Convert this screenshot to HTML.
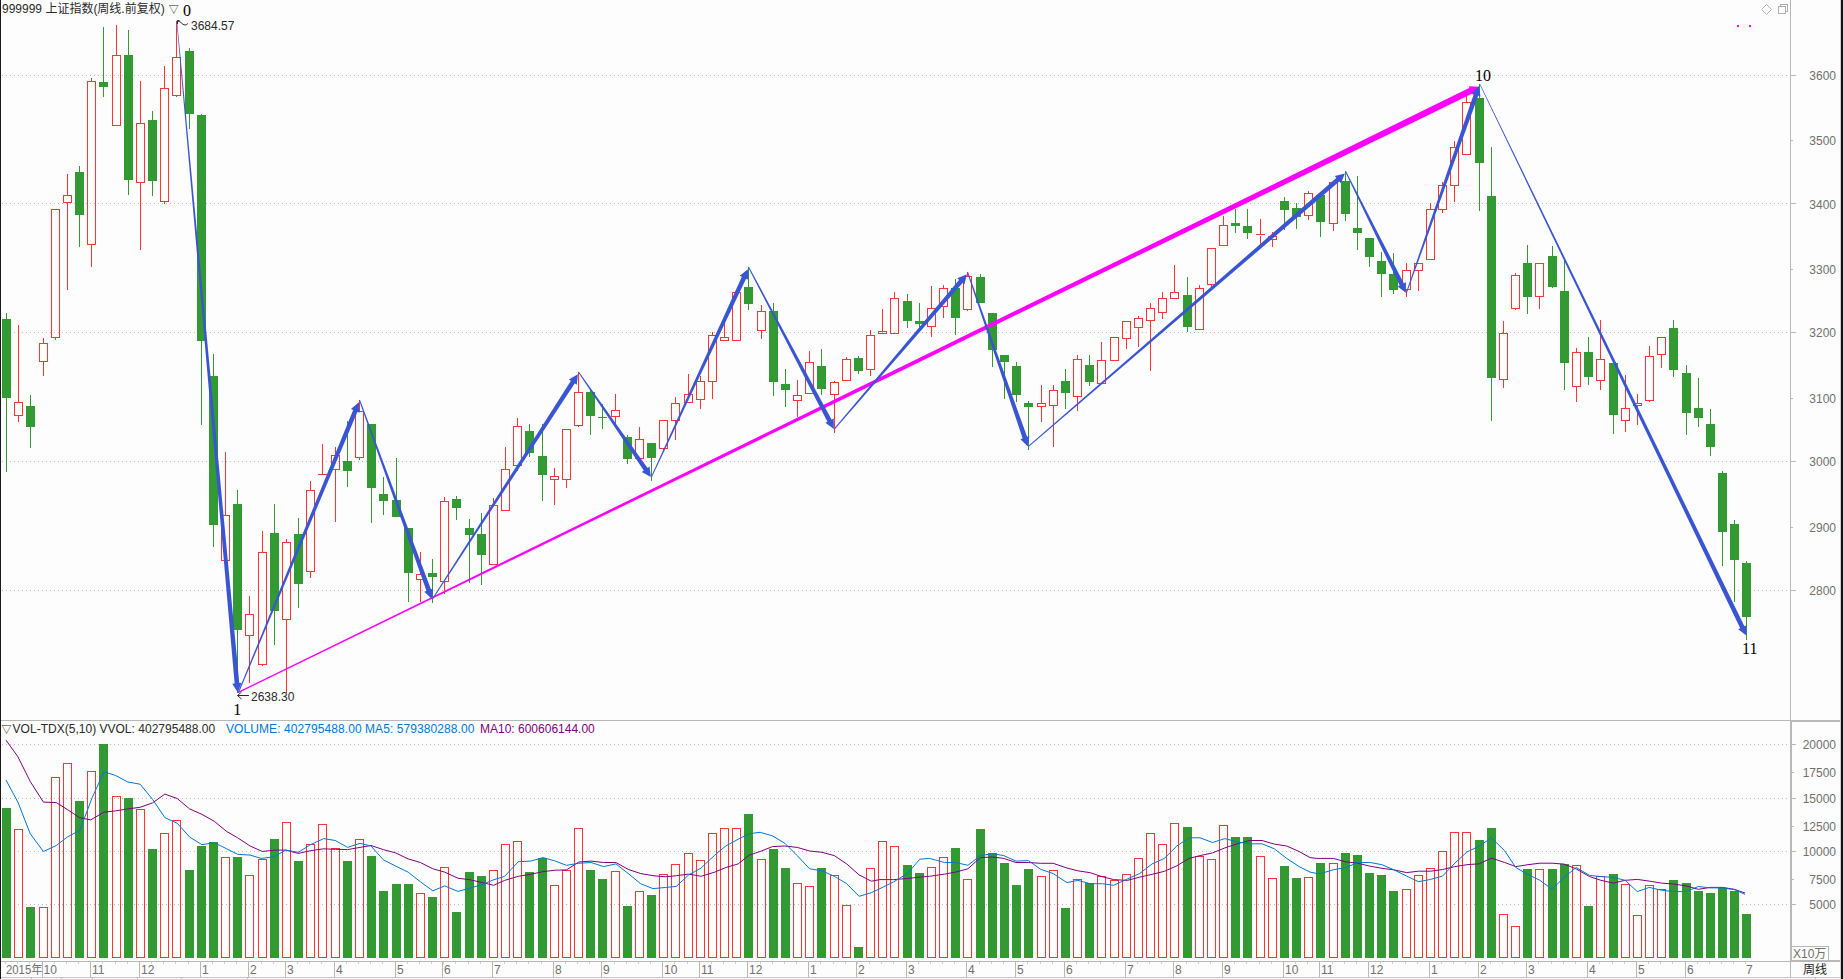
<!DOCTYPE html>
<html><head><meta charset="utf-8"><title>999999 上证指数</title>
<style>
html,body{margin:0;padding:0;background:#fdfdfd;}
body{width:1843px;height:979px;overflow:hidden;position:relative;font-family:"Liberation Sans","Noto Sans CJK SC",sans-serif;}
svg{position:absolute;left:0;top:0;display:block;}
text{font-family:"Liberation Sans","Noto Sans CJK SC",sans-serif;font-size:12px;}
.ser{font-family:"Liberation Serif","Noto Serif CJK SC",serif;font-size:16px;fill:#000;}
.ax{fill:#707070;}
.hd{fill:#2a2a2a;}
</style></head><body>
<svg width="1843" height="979" viewBox="0 0 1843 979">
<rect x="0" y="0" width="1843" height="979" fill="#fdfdfd"/>

<g stroke="#bcbcbc" stroke-width="1" stroke-dasharray="1 3" shape-rendering="crispEdges">
<line x1="2" y1="75.5" x2="1788" y2="75.5"/>
<line x1="2" y1="203.5" x2="1788" y2="203.5"/>
<line x1="2" y1="332.5" x2="1788" y2="332.5"/>
<line x1="2" y1="461.5" x2="1788" y2="461.5"/>
<line x1="2" y1="590.5" x2="1788" y2="590.5"/>
<line x1="2" y1="744.5" x2="1788" y2="744.5"/>
<line x1="2" y1="798.5" x2="1788" y2="798.5"/>
<line x1="2" y1="851.5" x2="1788" y2="851.5"/>
<line x1="2" y1="904.5" x2="1788" y2="904.5"/>
</g>
<g shape-rendering="crispEdges">
<rect x="0" y="0" width="1" height="979" fill="#1a1a1a"/>
<rect x="1841" y="0" width="2" height="979" fill="#111"/>
<rect x="1840" y="0" width="1" height="979" fill="#cfcfcf"/>
<rect x="1" y="720" width="1789" height="1" fill="#b8b8b8"/>
<rect x="1790" y="720" width="50" height="2" fill="#b8b8b8"/>
<rect x="1" y="961" width="1789" height="1" fill="#b8b8b8"/>
<rect x="1790" y="960" width="50" height="2" fill="#b8b8b8"/>
<rect x="1" y="977" width="1839" height="1" fill="#c4c4c4"/>
<rect x="1790" y="0" width="1" height="977" fill="#b8b8b8"/>
<rect x="1791" y="720" width="1" height="241" fill="#b8b8b8"/>
<rect x="1815" y="978" width="1" height="1" fill="#b8b8b8"/>
<rect x="1791" y="75" width="5" height="1" fill="#b8b8b8"/>
<rect x="1791" y="140" width="2" height="1" fill="#b8b8b8"/>
<rect x="1791" y="203" width="5" height="1" fill="#b8b8b8"/>
<rect x="1791" y="269" width="2" height="1" fill="#b8b8b8"/>
<rect x="1791" y="332" width="5" height="1" fill="#b8b8b8"/>
<rect x="1791" y="398" width="2" height="1" fill="#b8b8b8"/>
<rect x="1791" y="461" width="5" height="1" fill="#b8b8b8"/>
<rect x="1791" y="527" width="2" height="1" fill="#b8b8b8"/>
<rect x="1791" y="590" width="5" height="1" fill="#b8b8b8"/>
<rect x="1792" y="744" width="4" height="1" fill="#b8b8b8"/>
<rect x="1792" y="772" width="2" height="1" fill="#b8b8b8"/>
<rect x="1792" y="798" width="4" height="1" fill="#b8b8b8"/>
<rect x="1792" y="826" width="2" height="1" fill="#b8b8b8"/>
<rect x="1792" y="851" width="4" height="1" fill="#b8b8b8"/>
<rect x="1792" y="879" width="2" height="1" fill="#b8b8b8"/>
<rect x="1792" y="904" width="4" height="1" fill="#b8b8b8"/>
</g>
<g shape-rendering="crispEdges">
<rect x="6" y="313" width="1" height="159" fill="#339933"/>
<rect x="2" y="319" width="9" height="79" fill="#339933"/>
<rect x="18" y="325" width="1" height="77" fill="#ff3333"/>
<rect x="18" y="416" width="1" height="6" fill="#ff3333"/>
<rect x="14.5" y="402.5" width="8" height="13" fill="none" stroke="#ff3333" stroke-width="1"/>
<rect x="30" y="395" width="1" height="53" fill="#339933"/>
<rect x="26" y="406" width="9" height="21" fill="#339933"/>
<rect x="43" y="338" width="1" height="5" fill="#ff3333"/>
<rect x="43" y="362" width="1" height="14" fill="#ff3333"/>
<rect x="39.5" y="343.5" width="8" height="18" fill="none" stroke="#ff3333" stroke-width="1"/>
<rect x="55" y="338" width="1" height="2" fill="#ff3333"/>
<rect x="51.5" y="209.5" width="8" height="128" fill="none" stroke="#ff3333" stroke-width="1"/>
<rect x="67" y="174" width="1" height="21" fill="#ff3333"/>
<rect x="67" y="203" width="1" height="87" fill="#ff3333"/>
<rect x="63.5" y="195.5" width="8" height="7" fill="none" stroke="#ff3333" stroke-width="1"/>
<rect x="79" y="166" width="1" height="81" fill="#339933"/>
<rect x="75" y="172" width="9" height="43" fill="#339933"/>
<rect x="91" y="78" width="1" height="3" fill="#ff3333"/>
<rect x="91" y="245" width="1" height="22" fill="#ff3333"/>
<rect x="87.5" y="81.5" width="8" height="163" fill="none" stroke="#ff3333" stroke-width="1"/>
<rect x="103" y="27" width="1" height="70" fill="#339933"/>
<rect x="99" y="82" width="9" height="5" fill="#339933"/>
<rect x="116" y="25" width="1" height="30" fill="#ff3333"/>
<rect x="112.5" y="55.5" width="8" height="70" fill="none" stroke="#ff3333" stroke-width="1"/>
<rect x="128" y="30" width="1" height="165" fill="#339933"/>
<rect x="124" y="55" width="9" height="125" fill="#339933"/>
<rect x="140" y="81" width="1" height="42" fill="#ff3333"/>
<rect x="140" y="183" width="1" height="67" fill="#ff3333"/>
<rect x="136.5" y="123.5" width="8" height="59" fill="none" stroke="#ff3333" stroke-width="1"/>
<rect x="152" y="111" width="1" height="85" fill="#339933"/>
<rect x="148" y="120" width="9" height="61" fill="#339933"/>
<rect x="164" y="66" width="1" height="22" fill="#ff3333"/>
<rect x="164" y="202" width="1" height="2" fill="#ff3333"/>
<rect x="160.5" y="88.5" width="8" height="113" fill="none" stroke="#ff3333" stroke-width="1"/>
<rect x="176" y="21" width="1" height="36" fill="#ff3333"/>
<rect x="176" y="96" width="1" height="1" fill="#ff3333"/>
<rect x="172.5" y="57.5" width="8" height="38" fill="none" stroke="#ff3333" stroke-width="1"/>
<rect x="189" y="48" width="1" height="81" fill="#339933"/>
<rect x="185" y="51" width="9" height="63" fill="#339933"/>
<rect x="201" y="114" width="1" height="311" fill="#339933"/>
<rect x="197" y="115" width="9" height="226" fill="#339933"/>
<rect x="213" y="354" width="1" height="193" fill="#339933"/>
<rect x="209" y="376" width="9" height="149" fill="#339933"/>
<rect x="225" y="452" width="1" height="63" fill="#ff3333"/>
<rect x="221.5" y="515.5" width="8" height="45" fill="none" stroke="#ff3333" stroke-width="1"/>
<rect x="237" y="490" width="1" height="203" fill="#339933"/>
<rect x="233" y="504" width="9" height="126" fill="#339933"/>
<rect x="249" y="596" width="1" height="18" fill="#ff3333"/>
<rect x="249" y="636" width="1" height="47" fill="#ff3333"/>
<rect x="245.5" y="614.5" width="8" height="21" fill="none" stroke="#ff3333" stroke-width="1"/>
<rect x="262" y="531" width="1" height="21" fill="#ff3333"/>
<rect x="262" y="665" width="1" height="1" fill="#ff3333"/>
<rect x="258.5" y="552.5" width="8" height="112" fill="none" stroke="#ff3333" stroke-width="1"/>
<rect x="274" y="504" width="1" height="141" fill="#339933"/>
<rect x="270" y="533" width="9" height="78" fill="#339933"/>
<rect x="286" y="539" width="1" height="3" fill="#ff3333"/>
<rect x="286" y="620" width="1" height="73" fill="#ff3333"/>
<rect x="282.5" y="542.5" width="8" height="77" fill="none" stroke="#ff3333" stroke-width="1"/>
<rect x="298" y="518" width="1" height="90" fill="#339933"/>
<rect x="294" y="534" width="9" height="50" fill="#339933"/>
<rect x="310" y="481" width="1" height="9" fill="#ff3333"/>
<rect x="310" y="572" width="1" height="6" fill="#ff3333"/>
<rect x="306.5" y="490.5" width="8" height="81" fill="none" stroke="#ff3333" stroke-width="1"/>
<rect x="322" y="444" width="1" height="30" fill="#ff3333"/>
<rect x="318" y="474" width="9" height="1" fill="#ff3333"/>
<rect x="335" y="447" width="1" height="8" fill="#ff3333"/>
<rect x="335" y="470" width="1" height="52" fill="#ff3333"/>
<rect x="331.5" y="455.5" width="8" height="14" fill="none" stroke="#ff3333" stroke-width="1"/>
<rect x="347" y="421" width="1" height="66" fill="#339933"/>
<rect x="343" y="461" width="9" height="10" fill="#339933"/>
<rect x="359" y="400" width="1" height="11" fill="#ff3333"/>
<rect x="359" y="458" width="1" height="2" fill="#ff3333"/>
<rect x="355.5" y="411.5" width="8" height="46" fill="none" stroke="#ff3333" stroke-width="1"/>
<rect x="371" y="424" width="1" height="99" fill="#339933"/>
<rect x="367" y="424" width="9" height="64" fill="#339933"/>
<rect x="383" y="477" width="1" height="38" fill="#339933"/>
<rect x="379" y="494" width="9" height="7" fill="#339933"/>
<rect x="396" y="458" width="1" height="59" fill="#339933"/>
<rect x="392" y="500" width="9" height="17" fill="#339933"/>
<rect x="408" y="528" width="1" height="74" fill="#339933"/>
<rect x="404" y="528" width="9" height="45" fill="#339933"/>
<rect x="420" y="552" width="1" height="22" fill="#ff3333"/>
<rect x="420" y="580" width="1" height="22" fill="#ff3333"/>
<rect x="416.5" y="574.5" width="8" height="5" fill="none" stroke="#ff3333" stroke-width="1"/>
<rect x="432" y="559" width="1" height="44" fill="#339933"/>
<rect x="428" y="573" width="9" height="4" fill="#339933"/>
<rect x="444" y="497" width="1" height="4" fill="#ff3333"/>
<rect x="444" y="582" width="1" height="12" fill="#ff3333"/>
<rect x="440.5" y="501.5" width="8" height="80" fill="none" stroke="#ff3333" stroke-width="1"/>
<rect x="456" y="496" width="1" height="24" fill="#339933"/>
<rect x="452" y="499" width="9" height="9" fill="#339933"/>
<rect x="469" y="519" width="1" height="64" fill="#339933"/>
<rect x="465" y="528" width="9" height="7" fill="#339933"/>
<rect x="481" y="513" width="1" height="72" fill="#339933"/>
<rect x="477" y="534" width="9" height="21" fill="#339933"/>
<rect x="493" y="498" width="1" height="7" fill="#ff3333"/>
<rect x="489.5" y="505.5" width="8" height="59" fill="none" stroke="#ff3333" stroke-width="1"/>
<rect x="505" y="447" width="1" height="22" fill="#ff3333"/>
<rect x="501.5" y="469.5" width="8" height="41" fill="none" stroke="#ff3333" stroke-width="1"/>
<rect x="517" y="418" width="1" height="8" fill="#ff3333"/>
<rect x="517" y="466" width="1" height="5" fill="#ff3333"/>
<rect x="513.5" y="426.5" width="8" height="39" fill="none" stroke="#ff3333" stroke-width="1"/>
<rect x="529" y="424" width="1" height="33" fill="#339933"/>
<rect x="525" y="431" width="9" height="22" fill="#339933"/>
<rect x="542" y="424" width="1" height="77" fill="#339933"/>
<rect x="538" y="456" width="9" height="19" fill="#339933"/>
<rect x="554" y="468" width="1" height="8" fill="#ff3333"/>
<rect x="554" y="480" width="1" height="25" fill="#ff3333"/>
<rect x="550.5" y="476.5" width="8" height="3" fill="none" stroke="#ff3333" stroke-width="1"/>
<rect x="566" y="480" width="1" height="8" fill="#ff3333"/>
<rect x="562.5" y="429.5" width="8" height="50" fill="none" stroke="#ff3333" stroke-width="1"/>
<rect x="578" y="372" width="1" height="20" fill="#ff3333"/>
<rect x="578" y="426" width="1" height="1" fill="#ff3333"/>
<rect x="574.5" y="392.5" width="8" height="33" fill="none" stroke="#ff3333" stroke-width="1"/>
<rect x="590" y="390" width="1" height="45" fill="#339933"/>
<rect x="586" y="392" width="9" height="24" fill="#339933"/>
<rect x="602" y="404" width="1" height="25" fill="#339933"/>
<rect x="598" y="417" width="9" height="1" fill="#339933"/>
<rect x="615" y="394" width="1" height="16" fill="#ff3333"/>
<rect x="615" y="417" width="1" height="8" fill="#ff3333"/>
<rect x="611.5" y="410.5" width="8" height="6" fill="none" stroke="#ff3333" stroke-width="1"/>
<rect x="627" y="435" width="1" height="29" fill="#339933"/>
<rect x="623" y="437" width="9" height="22" fill="#339933"/>
<rect x="639" y="427" width="1" height="12" fill="#ff3333"/>
<rect x="635.5" y="439.5" width="8" height="19" fill="none" stroke="#ff3333" stroke-width="1"/>
<rect x="651" y="443" width="1" height="38" fill="#339933"/>
<rect x="647" y="443" width="9" height="15" fill="#339933"/>
<rect x="663" y="449" width="1" height="3" fill="#ff3333"/>
<rect x="659.5" y="420.5" width="8" height="28" fill="none" stroke="#ff3333" stroke-width="1"/>
<rect x="675" y="397" width="1" height="6" fill="#ff3333"/>
<rect x="675" y="421" width="1" height="19" fill="#ff3333"/>
<rect x="671.5" y="403.5" width="8" height="17" fill="none" stroke="#ff3333" stroke-width="1"/>
<rect x="688" y="374" width="1" height="20" fill="#ff3333"/>
<rect x="684.5" y="394.5" width="8" height="8" fill="none" stroke="#ff3333" stroke-width="1"/>
<rect x="700" y="376" width="1" height="5" fill="#ff3333"/>
<rect x="700" y="400" width="1" height="9" fill="#ff3333"/>
<rect x="696.5" y="381.5" width="8" height="18" fill="none" stroke="#ff3333" stroke-width="1"/>
<rect x="712" y="332" width="1" height="3" fill="#ff3333"/>
<rect x="712" y="382" width="1" height="17" fill="#ff3333"/>
<rect x="708.5" y="335.5" width="8" height="46" fill="none" stroke="#ff3333" stroke-width="1"/>
<rect x="724" y="323" width="1" height="14" fill="#ff3333"/>
<rect x="720.5" y="337.5" width="8" height="3" fill="none" stroke="#ff3333" stroke-width="1"/>
<rect x="732.5" y="292.5" width="8" height="48" fill="none" stroke="#ff3333" stroke-width="1"/>
<rect x="748" y="267" width="1" height="43" fill="#339933"/>
<rect x="744" y="287" width="9" height="17" fill="#339933"/>
<rect x="761" y="305" width="1" height="6" fill="#ff3333"/>
<rect x="761" y="331" width="1" height="8" fill="#ff3333"/>
<rect x="757.5" y="311.5" width="8" height="19" fill="none" stroke="#ff3333" stroke-width="1"/>
<rect x="773" y="303" width="1" height="93" fill="#339933"/>
<rect x="769" y="311" width="9" height="71" fill="#339933"/>
<rect x="785" y="369" width="1" height="38" fill="#339933"/>
<rect x="781" y="384" width="9" height="6" fill="#339933"/>
<rect x="797" y="380" width="1" height="15" fill="#ff3333"/>
<rect x="797" y="401" width="1" height="16" fill="#ff3333"/>
<rect x="793.5" y="395.5" width="8" height="5" fill="none" stroke="#ff3333" stroke-width="1"/>
<rect x="809" y="351" width="1" height="11" fill="#ff3333"/>
<rect x="805.5" y="362.5" width="8" height="31" fill="none" stroke="#ff3333" stroke-width="1"/>
<rect x="821" y="349" width="1" height="46" fill="#339933"/>
<rect x="817" y="366" width="9" height="23" fill="#339933"/>
<rect x="834" y="381" width="1" height="1" fill="#ff3333"/>
<rect x="834" y="395" width="1" height="38" fill="#ff3333"/>
<rect x="830.5" y="382.5" width="8" height="12" fill="none" stroke="#ff3333" stroke-width="1"/>
<rect x="846" y="357" width="1" height="2" fill="#ff3333"/>
<rect x="842.5" y="359.5" width="8" height="21" fill="none" stroke="#ff3333" stroke-width="1"/>
<rect x="858" y="356" width="1" height="18" fill="#339933"/>
<rect x="854" y="358" width="9" height="13" fill="#339933"/>
<rect x="870" y="330" width="1" height="5" fill="#ff3333"/>
<rect x="870" y="370" width="1" height="6" fill="#ff3333"/>
<rect x="866.5" y="335.5" width="8" height="34" fill="none" stroke="#ff3333" stroke-width="1"/>
<rect x="882" y="309" width="1" height="22" fill="#ff3333"/>
<rect x="878.5" y="331.5" width="8" height="2" fill="none" stroke="#ff3333" stroke-width="1"/>
<rect x="894" y="292" width="1" height="6" fill="#ff3333"/>
<rect x="890.5" y="298.5" width="8" height="35" fill="none" stroke="#ff3333" stroke-width="1"/>
<rect x="907" y="294" width="1" height="34" fill="#339933"/>
<rect x="903" y="301" width="9" height="20" fill="#339933"/>
<rect x="919" y="303" width="1" height="24" fill="#339933"/>
<rect x="915" y="321" width="9" height="3" fill="#339933"/>
<rect x="931" y="286" width="1" height="22" fill="#ff3333"/>
<rect x="931" y="327" width="1" height="10" fill="#ff3333"/>
<rect x="927.5" y="308.5" width="8" height="18" fill="none" stroke="#ff3333" stroke-width="1"/>
<rect x="943" y="285" width="1" height="3" fill="#ff3333"/>
<rect x="943" y="307" width="1" height="11" fill="#ff3333"/>
<rect x="939.5" y="288.5" width="8" height="18" fill="none" stroke="#ff3333" stroke-width="1"/>
<rect x="955" y="279" width="1" height="56" fill="#339933"/>
<rect x="951" y="288" width="9" height="30" fill="#339933"/>
<rect x="967" y="272" width="1" height="4" fill="#ff3333"/>
<rect x="967" y="310" width="1" height="1" fill="#ff3333"/>
<rect x="963.5" y="276.5" width="8" height="33" fill="none" stroke="#ff3333" stroke-width="1"/>
<rect x="980" y="274" width="1" height="29" fill="#339933"/>
<rect x="976" y="277" width="9" height="26" fill="#339933"/>
<rect x="992" y="313" width="1" height="54" fill="#339933"/>
<rect x="988" y="313" width="9" height="37" fill="#339933"/>
<rect x="1004" y="355" width="1" height="44" fill="#339933"/>
<rect x="1000" y="355" width="9" height="7" fill="#339933"/>
<rect x="1016" y="362" width="1" height="40" fill="#339933"/>
<rect x="1012" y="366" width="9" height="29" fill="#339933"/>
<rect x="1028" y="401" width="1" height="49" fill="#339933"/>
<rect x="1024" y="403" width="9" height="4" fill="#339933"/>
<rect x="1041" y="385" width="1" height="18" fill="#ff3333"/>
<rect x="1041" y="407" width="1" height="15" fill="#ff3333"/>
<rect x="1037.5" y="403.5" width="8" height="3" fill="none" stroke="#ff3333" stroke-width="1"/>
<rect x="1053" y="385" width="1" height="5" fill="#ff3333"/>
<rect x="1053" y="406" width="1" height="41" fill="#ff3333"/>
<rect x="1049.5" y="390.5" width="8" height="15" fill="none" stroke="#ff3333" stroke-width="1"/>
<rect x="1065" y="369" width="1" height="40" fill="#339933"/>
<rect x="1061" y="381" width="9" height="12" fill="#339933"/>
<rect x="1077" y="355" width="1" height="4" fill="#ff3333"/>
<rect x="1077" y="397" width="1" height="14" fill="#ff3333"/>
<rect x="1073.5" y="359.5" width="8" height="37" fill="none" stroke="#ff3333" stroke-width="1"/>
<rect x="1089" y="355" width="1" height="31" fill="#339933"/>
<rect x="1085" y="365" width="9" height="17" fill="#339933"/>
<rect x="1101" y="342" width="1" height="18" fill="#ff3333"/>
<rect x="1097.5" y="360.5" width="8" height="23" fill="none" stroke="#ff3333" stroke-width="1"/>
<rect x="1110.5" y="337.5" width="8" height="23" fill="none" stroke="#ff3333" stroke-width="1"/>
<rect x="1126" y="339" width="1" height="10" fill="#ff3333"/>
<rect x="1122.5" y="321.5" width="8" height="17" fill="none" stroke="#ff3333" stroke-width="1"/>
<rect x="1138" y="316" width="1" height="2" fill="#ff3333"/>
<rect x="1138" y="328" width="1" height="19" fill="#ff3333"/>
<rect x="1134.5" y="318.5" width="8" height="9" fill="none" stroke="#ff3333" stroke-width="1"/>
<rect x="1150" y="303" width="1" height="5" fill="#ff3333"/>
<rect x="1150" y="321" width="1" height="50" fill="#ff3333"/>
<rect x="1146.5" y="308.5" width="8" height="12" fill="none" stroke="#ff3333" stroke-width="1"/>
<rect x="1162" y="292" width="1" height="6" fill="#ff3333"/>
<rect x="1162" y="313" width="1" height="6" fill="#ff3333"/>
<rect x="1158.5" y="298.5" width="8" height="14" fill="none" stroke="#ff3333" stroke-width="1"/>
<rect x="1174" y="265" width="1" height="27" fill="#ff3333"/>
<rect x="1170.5" y="292.5" width="8" height="6" fill="none" stroke="#ff3333" stroke-width="1"/>
<rect x="1187" y="277" width="1" height="55" fill="#339933"/>
<rect x="1183" y="295" width="9" height="32" fill="#339933"/>
<rect x="1199" y="285" width="1" height="3" fill="#ff3333"/>
<rect x="1195.5" y="288.5" width="8" height="41" fill="none" stroke="#ff3333" stroke-width="1"/>
<rect x="1211" y="285" width="1" height="3" fill="#ff3333"/>
<rect x="1207.5" y="248.5" width="8" height="36" fill="none" stroke="#ff3333" stroke-width="1"/>
<rect x="1223" y="216" width="1" height="9" fill="#ff3333"/>
<rect x="1219.5" y="225.5" width="8" height="20" fill="none" stroke="#ff3333" stroke-width="1"/>
<rect x="1235" y="209" width="1" height="24" fill="#339933"/>
<rect x="1231" y="223" width="9" height="3" fill="#339933"/>
<rect x="1247" y="209" width="1" height="30" fill="#339933"/>
<rect x="1243" y="226" width="9" height="7" fill="#339933"/>
<rect x="1260" y="219" width="1" height="15" fill="#ff3333"/>
<rect x="1260" y="236" width="1" height="9" fill="#ff3333"/>
<rect x="1256" y="234" width="9" height="1" fill="#ff3333"/>
<rect x="1272" y="232" width="1" height="4" fill="#ff3333"/>
<rect x="1272" y="240" width="1" height="7" fill="#ff3333"/>
<rect x="1268.5" y="236.5" width="8" height="3" fill="none" stroke="#ff3333" stroke-width="1"/>
<rect x="1284" y="197" width="1" height="33" fill="#339933"/>
<rect x="1280" y="201" width="9" height="9" fill="#339933"/>
<rect x="1296" y="203" width="1" height="26" fill="#339933"/>
<rect x="1292" y="208" width="9" height="9" fill="#339933"/>
<rect x="1308" y="191" width="1" height="2" fill="#ff3333"/>
<rect x="1308" y="216" width="1" height="4" fill="#ff3333"/>
<rect x="1304.5" y="193.5" width="8" height="22" fill="none" stroke="#ff3333" stroke-width="1"/>
<rect x="1320" y="195" width="1" height="42" fill="#339933"/>
<rect x="1316" y="195" width="9" height="27" fill="#339933"/>
<rect x="1333" y="224" width="1" height="7" fill="#ff3333"/>
<rect x="1329.5" y="182.5" width="8" height="41" fill="none" stroke="#ff3333" stroke-width="1"/>
<rect x="1345" y="171" width="1" height="50" fill="#339933"/>
<rect x="1341" y="181" width="9" height="33" fill="#339933"/>
<rect x="1357" y="176" width="1" height="74" fill="#339933"/>
<rect x="1353" y="228" width="9" height="5" fill="#339933"/>
<rect x="1369" y="238" width="1" height="29" fill="#339933"/>
<rect x="1365" y="238" width="9" height="19" fill="#339933"/>
<rect x="1381" y="252" width="1" height="45" fill="#339933"/>
<rect x="1377" y="261" width="9" height="13" fill="#339933"/>
<rect x="1393" y="253" width="1" height="41" fill="#339933"/>
<rect x="1389" y="274" width="9" height="16" fill="#339933"/>
<rect x="1406" y="263" width="1" height="7" fill="#ff3333"/>
<rect x="1406" y="290" width="1" height="7" fill="#ff3333"/>
<rect x="1402.5" y="270.5" width="8" height="19" fill="none" stroke="#ff3333" stroke-width="1"/>
<rect x="1418" y="271" width="1" height="20" fill="#ff3333"/>
<rect x="1414.5" y="263.5" width="8" height="7" fill="none" stroke="#ff3333" stroke-width="1"/>
<rect x="1430" y="203" width="1" height="6" fill="#ff3333"/>
<rect x="1426.5" y="209.5" width="8" height="50" fill="none" stroke="#ff3333" stroke-width="1"/>
<rect x="1442" y="182" width="1" height="3" fill="#ff3333"/>
<rect x="1442" y="210" width="1" height="3" fill="#ff3333"/>
<rect x="1438.5" y="185.5" width="8" height="24" fill="none" stroke="#ff3333" stroke-width="1"/>
<rect x="1454" y="141" width="1" height="6" fill="#ff3333"/>
<rect x="1454" y="186" width="1" height="16" fill="#ff3333"/>
<rect x="1450.5" y="147.5" width="8" height="38" fill="none" stroke="#ff3333" stroke-width="1"/>
<rect x="1466" y="93" width="1" height="9" fill="#ff3333"/>
<rect x="1462.5" y="102.5" width="8" height="52" fill="none" stroke="#ff3333" stroke-width="1"/>
<rect x="1479" y="84" width="1" height="127" fill="#339933"/>
<rect x="1475" y="98" width="9" height="65" fill="#339933"/>
<rect x="1491" y="147" width="1" height="274" fill="#339933"/>
<rect x="1487" y="196" width="9" height="182" fill="#339933"/>
<rect x="1503" y="321" width="1" height="12" fill="#ff3333"/>
<rect x="1503" y="380" width="1" height="8" fill="#ff3333"/>
<rect x="1499.5" y="333.5" width="8" height="46" fill="none" stroke="#ff3333" stroke-width="1"/>
<rect x="1515" y="273" width="1" height="2" fill="#ff3333"/>
<rect x="1515" y="309" width="1" height="1" fill="#ff3333"/>
<rect x="1511.5" y="275.5" width="8" height="33" fill="none" stroke="#ff3333" stroke-width="1"/>
<rect x="1527" y="245" width="1" height="69" fill="#339933"/>
<rect x="1523" y="263" width="9" height="34" fill="#339933"/>
<rect x="1539" y="297" width="1" height="12" fill="#ff3333"/>
<rect x="1535.5" y="263.5" width="8" height="33" fill="none" stroke="#ff3333" stroke-width="1"/>
<rect x="1552" y="246" width="1" height="42" fill="#339933"/>
<rect x="1548" y="256" width="9" height="31" fill="#339933"/>
<rect x="1564" y="260" width="1" height="130" fill="#339933"/>
<rect x="1560" y="291" width="9" height="72" fill="#339933"/>
<rect x="1576" y="348" width="1" height="4" fill="#ff3333"/>
<rect x="1576" y="387" width="1" height="15" fill="#ff3333"/>
<rect x="1572.5" y="352.5" width="8" height="34" fill="none" stroke="#ff3333" stroke-width="1"/>
<rect x="1588" y="337" width="1" height="48" fill="#339933"/>
<rect x="1584" y="352" width="9" height="25" fill="#339933"/>
<rect x="1600" y="320" width="1" height="39" fill="#ff3333"/>
<rect x="1600" y="381" width="1" height="9" fill="#ff3333"/>
<rect x="1596.5" y="359.5" width="8" height="21" fill="none" stroke="#ff3333" stroke-width="1"/>
<rect x="1613" y="363" width="1" height="71" fill="#339933"/>
<rect x="1609" y="363" width="9" height="52" fill="#339933"/>
<rect x="1625" y="375" width="1" height="33" fill="#ff3333"/>
<rect x="1625" y="421" width="1" height="11" fill="#ff3333"/>
<rect x="1621.5" y="408.5" width="8" height="12" fill="none" stroke="#ff3333" stroke-width="1"/>
<rect x="1637" y="394" width="1" height="9" fill="#ff3333"/>
<rect x="1637" y="406" width="1" height="19" fill="#ff3333"/>
<rect x="1633.5" y="403.5" width="8" height="2" fill="none" stroke="#ff3333" stroke-width="1"/>
<rect x="1649" y="346" width="1" height="10" fill="#ff3333"/>
<rect x="1649" y="401" width="1" height="1" fill="#ff3333"/>
<rect x="1645.5" y="356.5" width="8" height="44" fill="none" stroke="#ff3333" stroke-width="1"/>
<rect x="1661" y="355" width="1" height="13" fill="#ff3333"/>
<rect x="1657.5" y="337.5" width="8" height="17" fill="none" stroke="#ff3333" stroke-width="1"/>
<rect x="1673" y="320" width="1" height="57" fill="#339933"/>
<rect x="1669" y="328" width="9" height="42" fill="#339933"/>
<rect x="1686" y="365" width="1" height="70" fill="#339933"/>
<rect x="1682" y="373" width="9" height="40" fill="#339933"/>
<rect x="1698" y="378" width="1" height="49" fill="#339933"/>
<rect x="1694" y="408" width="9" height="10" fill="#339933"/>
<rect x="1710" y="409" width="1" height="47" fill="#339933"/>
<rect x="1706" y="424" width="9" height="23" fill="#339933"/>
<rect x="1722" y="471" width="1" height="95" fill="#339933"/>
<rect x="1718" y="473" width="9" height="59" fill="#339933"/>
<rect x="1734" y="520" width="1" height="82" fill="#339933"/>
<rect x="1730" y="524" width="9" height="36" fill="#339933"/>
<rect x="1746" y="561" width="1" height="79" fill="#339933"/>
<rect x="1742" y="563" width="9" height="54" fill="#339933"/>
<rect x="2" y="808" width="9" height="150" fill="#339933"/>
<rect x="14.5" y="829.5" width="8" height="128" fill="none" stroke="#ff3333" stroke-width="1"/>
<rect x="26" y="907" width="9" height="51" fill="#339933"/>
<rect x="39.5" y="907.5" width="8" height="50" fill="none" stroke="#ff3333" stroke-width="1"/>
<rect x="51.5" y="777.5" width="8" height="180" fill="none" stroke="#ff3333" stroke-width="1"/>
<rect x="63.5" y="763.5" width="8" height="194" fill="none" stroke="#ff3333" stroke-width="1"/>
<rect x="75" y="801" width="9" height="157" fill="#339933"/>
<rect x="87.5" y="771.5" width="8" height="186" fill="none" stroke="#ff3333" stroke-width="1"/>
<rect x="99" y="744" width="9" height="214" fill="#339933"/>
<rect x="112.5" y="796.5" width="8" height="161" fill="none" stroke="#ff3333" stroke-width="1"/>
<rect x="124" y="798" width="9" height="160" fill="#339933"/>
<rect x="136.5" y="809.5" width="8" height="148" fill="none" stroke="#ff3333" stroke-width="1"/>
<rect x="148" y="849" width="9" height="109" fill="#339933"/>
<rect x="160.5" y="833.5" width="8" height="124" fill="none" stroke="#ff3333" stroke-width="1"/>
<rect x="172.5" y="820.5" width="8" height="137" fill="none" stroke="#ff3333" stroke-width="1"/>
<rect x="185" y="870" width="9" height="88" fill="#339933"/>
<rect x="197" y="846" width="9" height="112" fill="#339933"/>
<rect x="209" y="842" width="9" height="116" fill="#339933"/>
<rect x="221.5" y="857.5" width="8" height="100" fill="none" stroke="#ff3333" stroke-width="1"/>
<rect x="233" y="857" width="9" height="101" fill="#339933"/>
<rect x="245.5" y="875.5" width="8" height="82" fill="none" stroke="#ff3333" stroke-width="1"/>
<rect x="258.5" y="859.5" width="8" height="98" fill="none" stroke="#ff3333" stroke-width="1"/>
<rect x="270" y="839" width="9" height="119" fill="#339933"/>
<rect x="282.5" y="822.5" width="8" height="135" fill="none" stroke="#ff3333" stroke-width="1"/>
<rect x="294" y="861" width="9" height="97" fill="#339933"/>
<rect x="306.5" y="844.5" width="8" height="113" fill="none" stroke="#ff3333" stroke-width="1"/>
<rect x="318.5" y="824.5" width="8" height="133" fill="none" stroke="#ff3333" stroke-width="1"/>
<rect x="331.5" y="848.5" width="8" height="109" fill="none" stroke="#ff3333" stroke-width="1"/>
<rect x="343" y="861" width="9" height="97" fill="#339933"/>
<rect x="355.5" y="839.5" width="8" height="118" fill="none" stroke="#ff3333" stroke-width="1"/>
<rect x="367" y="856" width="9" height="102" fill="#339933"/>
<rect x="379" y="891" width="9" height="67" fill="#339933"/>
<rect x="392" y="884" width="9" height="74" fill="#339933"/>
<rect x="404" y="884" width="9" height="74" fill="#339933"/>
<rect x="416.5" y="893.5" width="8" height="64" fill="none" stroke="#ff3333" stroke-width="1"/>
<rect x="428" y="897" width="9" height="61" fill="#339933"/>
<rect x="440.5" y="867.5" width="8" height="90" fill="none" stroke="#ff3333" stroke-width="1"/>
<rect x="452" y="912" width="9" height="46" fill="#339933"/>
<rect x="465" y="872" width="9" height="86" fill="#339933"/>
<rect x="477" y="876" width="9" height="82" fill="#339933"/>
<rect x="489.5" y="870.5" width="8" height="87" fill="none" stroke="#ff3333" stroke-width="1"/>
<rect x="501.5" y="844.5" width="8" height="113" fill="none" stroke="#ff3333" stroke-width="1"/>
<rect x="513.5" y="841.5" width="8" height="116" fill="none" stroke="#ff3333" stroke-width="1"/>
<rect x="525" y="872" width="9" height="86" fill="#339933"/>
<rect x="538" y="858" width="9" height="100" fill="#339933"/>
<rect x="550.5" y="885.5" width="8" height="72" fill="none" stroke="#ff3333" stroke-width="1"/>
<rect x="562.5" y="870.5" width="8" height="87" fill="none" stroke="#ff3333" stroke-width="1"/>
<rect x="574.5" y="828.5" width="8" height="129" fill="none" stroke="#ff3333" stroke-width="1"/>
<rect x="586" y="870" width="9" height="88" fill="#339933"/>
<rect x="598" y="879" width="9" height="79" fill="#339933"/>
<rect x="611.5" y="871.5" width="8" height="86" fill="none" stroke="#ff3333" stroke-width="1"/>
<rect x="623" y="906" width="9" height="52" fill="#339933"/>
<rect x="635.5" y="891.5" width="8" height="66" fill="none" stroke="#ff3333" stroke-width="1"/>
<rect x="647" y="895" width="9" height="63" fill="#339933"/>
<rect x="659.5" y="874.5" width="8" height="83" fill="none" stroke="#ff3333" stroke-width="1"/>
<rect x="671.5" y="864.5" width="8" height="93" fill="none" stroke="#ff3333" stroke-width="1"/>
<rect x="684.5" y="853.5" width="8" height="104" fill="none" stroke="#ff3333" stroke-width="1"/>
<rect x="696.5" y="860.5" width="8" height="97" fill="none" stroke="#ff3333" stroke-width="1"/>
<rect x="708.5" y="833.5" width="8" height="124" fill="none" stroke="#ff3333" stroke-width="1"/>
<rect x="720.5" y="828.5" width="8" height="129" fill="none" stroke="#ff3333" stroke-width="1"/>
<rect x="732.5" y="828.5" width="8" height="129" fill="none" stroke="#ff3333" stroke-width="1"/>
<rect x="744" y="814" width="9" height="144" fill="#339933"/>
<rect x="757.5" y="859.5" width="8" height="98" fill="none" stroke="#ff3333" stroke-width="1"/>
<rect x="769" y="849" width="9" height="109" fill="#339933"/>
<rect x="781" y="868" width="9" height="90" fill="#339933"/>
<rect x="793.5" y="883.5" width="8" height="74" fill="none" stroke="#ff3333" stroke-width="1"/>
<rect x="805.5" y="886.5" width="8" height="71" fill="none" stroke="#ff3333" stroke-width="1"/>
<rect x="817" y="868" width="9" height="90" fill="#339933"/>
<rect x="830.5" y="875.5" width="8" height="82" fill="none" stroke="#ff3333" stroke-width="1"/>
<rect x="842.5" y="905.5" width="8" height="52" fill="none" stroke="#ff3333" stroke-width="1"/>
<rect x="854" y="947" width="9" height="11" fill="#339933"/>
<rect x="866.5" y="868.5" width="8" height="89" fill="none" stroke="#ff3333" stroke-width="1"/>
<rect x="878.5" y="841.5" width="8" height="116" fill="none" stroke="#ff3333" stroke-width="1"/>
<rect x="890.5" y="846.5" width="8" height="111" fill="none" stroke="#ff3333" stroke-width="1"/>
<rect x="903" y="865" width="9" height="93" fill="#339933"/>
<rect x="915" y="873" width="9" height="85" fill="#339933"/>
<rect x="927.5" y="867.5" width="8" height="90" fill="none" stroke="#ff3333" stroke-width="1"/>
<rect x="939.5" y="857.5" width="8" height="100" fill="none" stroke="#ff3333" stroke-width="1"/>
<rect x="951" y="848" width="9" height="110" fill="#339933"/>
<rect x="963.5" y="879.5" width="8" height="78" fill="none" stroke="#ff3333" stroke-width="1"/>
<rect x="976" y="829" width="9" height="129" fill="#339933"/>
<rect x="988" y="853" width="9" height="105" fill="#339933"/>
<rect x="1000" y="863" width="9" height="95" fill="#339933"/>
<rect x="1012" y="885" width="9" height="73" fill="#339933"/>
<rect x="1024" y="869" width="9" height="89" fill="#339933"/>
<rect x="1037.5" y="876.5" width="8" height="81" fill="none" stroke="#ff3333" stroke-width="1"/>
<rect x="1049.5" y="870.5" width="8" height="87" fill="none" stroke="#ff3333" stroke-width="1"/>
<rect x="1061" y="908" width="9" height="50" fill="#339933"/>
<rect x="1073.5" y="879.5" width="8" height="78" fill="none" stroke="#ff3333" stroke-width="1"/>
<rect x="1085" y="883" width="9" height="75" fill="#339933"/>
<rect x="1097.5" y="876.5" width="8" height="81" fill="none" stroke="#ff3333" stroke-width="1"/>
<rect x="1110.5" y="880.5" width="8" height="77" fill="none" stroke="#ff3333" stroke-width="1"/>
<rect x="1122.5" y="874.5" width="8" height="83" fill="none" stroke="#ff3333" stroke-width="1"/>
<rect x="1134.5" y="858.5" width="8" height="99" fill="none" stroke="#ff3333" stroke-width="1"/>
<rect x="1146.5" y="833.5" width="8" height="124" fill="none" stroke="#ff3333" stroke-width="1"/>
<rect x="1158.5" y="844.5" width="8" height="113" fill="none" stroke="#ff3333" stroke-width="1"/>
<rect x="1170.5" y="823.5" width="8" height="134" fill="none" stroke="#ff3333" stroke-width="1"/>
<rect x="1183" y="827" width="9" height="131" fill="#339933"/>
<rect x="1195.5" y="856.5" width="8" height="101" fill="none" stroke="#ff3333" stroke-width="1"/>
<rect x="1207.5" y="859.5" width="8" height="98" fill="none" stroke="#ff3333" stroke-width="1"/>
<rect x="1219.5" y="825.5" width="8" height="132" fill="none" stroke="#ff3333" stroke-width="1"/>
<rect x="1231" y="837" width="9" height="121" fill="#339933"/>
<rect x="1243" y="837" width="9" height="121" fill="#339933"/>
<rect x="1256.5" y="856.5" width="8" height="101" fill="none" stroke="#ff3333" stroke-width="1"/>
<rect x="1268.5" y="878.5" width="8" height="79" fill="none" stroke="#ff3333" stroke-width="1"/>
<rect x="1280" y="866" width="9" height="92" fill="#339933"/>
<rect x="1292" y="878" width="9" height="80" fill="#339933"/>
<rect x="1304.5" y="877.5" width="8" height="80" fill="none" stroke="#ff3333" stroke-width="1"/>
<rect x="1316" y="863" width="9" height="95" fill="#339933"/>
<rect x="1329.5" y="863.5" width="8" height="94" fill="none" stroke="#ff3333" stroke-width="1"/>
<rect x="1341" y="853" width="9" height="105" fill="#339933"/>
<rect x="1353" y="855" width="9" height="103" fill="#339933"/>
<rect x="1365" y="873" width="9" height="85" fill="#339933"/>
<rect x="1377" y="875" width="9" height="83" fill="#339933"/>
<rect x="1389" y="891" width="9" height="67" fill="#339933"/>
<rect x="1402.5" y="889.5" width="8" height="68" fill="none" stroke="#ff3333" stroke-width="1"/>
<rect x="1414.5" y="875.5" width="8" height="82" fill="none" stroke="#ff3333" stroke-width="1"/>
<rect x="1426.5" y="868.5" width="8" height="89" fill="none" stroke="#ff3333" stroke-width="1"/>
<rect x="1438.5" y="851.5" width="8" height="106" fill="none" stroke="#ff3333" stroke-width="1"/>
<rect x="1450.5" y="832.5" width="8" height="125" fill="none" stroke="#ff3333" stroke-width="1"/>
<rect x="1462.5" y="832.5" width="8" height="125" fill="none" stroke="#ff3333" stroke-width="1"/>
<rect x="1475" y="840" width="9" height="118" fill="#339933"/>
<rect x="1487" y="828" width="9" height="130" fill="#339933"/>
<rect x="1499.5" y="914.5" width="8" height="43" fill="none" stroke="#ff3333" stroke-width="1"/>
<rect x="1511.5" y="926.5" width="8" height="31" fill="none" stroke="#ff3333" stroke-width="1"/>
<rect x="1523" y="869" width="9" height="89" fill="#339933"/>
<rect x="1535.5" y="869.5" width="8" height="88" fill="none" stroke="#ff3333" stroke-width="1"/>
<rect x="1548" y="869" width="9" height="89" fill="#339933"/>
<rect x="1560" y="864" width="9" height="94" fill="#339933"/>
<rect x="1572.5" y="865.5" width="8" height="92" fill="none" stroke="#ff3333" stroke-width="1"/>
<rect x="1584" y="906" width="9" height="52" fill="#339933"/>
<rect x="1596.5" y="876.5" width="8" height="81" fill="none" stroke="#ff3333" stroke-width="1"/>
<rect x="1609" y="874" width="9" height="84" fill="#339933"/>
<rect x="1621.5" y="884.5" width="8" height="73" fill="none" stroke="#ff3333" stroke-width="1"/>
<rect x="1633.5" y="915.5" width="8" height="42" fill="none" stroke="#ff3333" stroke-width="1"/>
<rect x="1645.5" y="885.5" width="8" height="72" fill="none" stroke="#ff3333" stroke-width="1"/>
<rect x="1657.5" y="889.5" width="8" height="68" fill="none" stroke="#ff3333" stroke-width="1"/>
<rect x="1669" y="880" width="9" height="78" fill="#339933"/>
<rect x="1682" y="883" width="9" height="75" fill="#339933"/>
<rect x="1694" y="891" width="9" height="67" fill="#339933"/>
<rect x="1706" y="893" width="9" height="65" fill="#339933"/>
<rect x="1718" y="888" width="9" height="70" fill="#339933"/>
<rect x="1730" y="891" width="9" height="67" fill="#339933"/>
<rect x="1742" y="914" width="9" height="44" fill="#339933"/>
</g>
<polyline points="6.0,740.2 17.9,756.7 30.2,781.4 43.4,802.1 56.3,802.6 67.3,809.5 79.7,817.7 90.7,819.9 103.9,812.2 115.4,810.9 127.8,808.9 140.1,807.3 152.5,802.9 164.9,794.1 177.2,798.5 189.6,808.9 202.0,814.4 214.3,821.3 226.7,831.5 237.7,837.8 250.1,846.0 262.4,851.5 274.8,850.1 285.8,850.1 298.2,853.4 310.5,850.7 323.7,848.8 335.3,849.3 347.6,849.6 360.0,847.4 371.0,845.5 383.3,849.6 395.7,852.9 408.1,858.9 420.4,862.5 432.8,868.8 444.7,872.1 457.9,878.2 470.2,879.8 482.6,882.6 493.6,885.3 504.6,880.4 518.3,876.3 530.7,874.3 543.1,871.6 555.4,870.2 566.4,869.9 578.8,862.0 591.1,861.1 603.5,862.5 615.9,862.5 628.2,869.4 640.6,873.5 653.0,875.7 665.3,876.8 676.3,875.7 688.7,874.1 701.1,876.3 714.8,872.1 725.8,867.5 738.2,863.9 749.2,855.1 760.1,851.5 772.5,846.6 784.9,846.0 797.2,847.4 809.6,851.0 822.0,852.3 834.3,855.6 846.7,863.9 859.1,874.9 871.4,881.2 880.0,879.6 893.7,879.6 907.5,878.5 919.8,877.1 929.5,876.3 944.6,874.1 955.6,872.1 967.9,868.8 980.3,857.6 992.7,857.0 1003.7,858.4 1016.0,862.5 1028.4,862.5 1040.8,863.3 1053.1,863.3 1066.9,868.0 1077.9,870.8 1090.2,872.7 1102.6,876.8 1113.6,879.6 1127.3,880.4 1139.7,877.1 1152.1,874.3 1164.4,871.3 1176.8,865.8 1189.2,858.4 1200.1,855.6 1212.5,852.9 1224.9,847.9 1237.2,843.8 1249.6,840.5 1262.0,840.5 1274.3,844.1 1286.7,846.0 1299.1,851.5 1310.1,857.6 1316.9,858.4 1320.0,858.4 1333.3,858.4 1345.5,861.8 1357.5,863.2 1369.7,866.1 1381.9,868.3 1393.8,869.8 1406.5,872.6 1418.5,871.2 1430.7,871.2 1442.6,869.5 1454.8,866.6 1467.0,864.7 1479.2,863.8 1491.4,858.1 1504.4,862.4 1515.8,866.6 1528.0,864.7 1539.9,863.2 1552.1,863.2 1564.0,864.1 1576.2,868.9 1589.6,876.6 1600.9,880.3 1613.1,883.1 1625.1,880.3 1637.3,879.4 1649.2,881.1 1661.4,883.1 1673.3,884.0 1686.1,885.9 1698.3,889.3 1710.2,887.4 1722.4,887.4 1734.3,889.3 1745.1,893.0" fill="none" stroke="#800080" stroke-width="1.0" stroke-linejoin="round"/>
<polyline points="6.0,780.1 17.9,802.1 30.2,833.7 43.4,851.5 56.3,845.5 67.3,837.0 79.7,830.4 92.1,797.9 103.9,771.8 115.4,775.4 127.8,782.0 140.1,784.2 152.5,799.3 164.9,817.7 177.2,823.2 189.6,837.0 202.0,844.7 214.3,842.7 226.7,848.8 237.7,854.3 250.1,855.1 261.1,858.4 273.4,857.0 285.8,850.1 298.2,852.3 310.5,844.7 323.7,838.6 335.3,840.5 347.6,847.4 360.0,843.3 371.0,846.0 383.3,859.8 395.7,866.1 408.1,872.1 420.4,881.8 432.8,890.8 444.7,885.9 457.9,891.4 470.2,888.1 482.6,884.5 493.6,879.8 504.6,876.3 518.3,861.7 530.7,861.1 543.1,857.6 555.4,861.1 566.4,865.3 578.8,863.3 591.1,862.5 603.5,866.6 615.9,863.9 628.2,873.5 640.6,883.7 653.0,888.6 665.3,887.5 676.3,886.4 688.7,874.9 701.1,868.0 714.8,855.1 725.8,846.0 738.2,839.2 749.2,833.7 760.1,832.3 772.5,835.9 784.9,843.3 797.2,855.6 809.6,868.8 822.0,870.8 834.3,876.3 846.7,883.7 859.1,896.3 871.4,892.7 880.0,888.6 893.7,881.8 907.5,873.5 919.8,859.2 929.5,858.4 944.6,862.5 955.6,862.5 967.9,865.3 980.3,855.6 992.7,853.7 1003.7,855.6 1016.0,861.1 1028.4,860.6 1040.8,869.4 1053.1,873.5 1066.9,882.6 1077.9,880.4 1090.2,883.7 1102.6,883.7 1113.6,885.3 1127.3,879.0 1139.7,873.5 1152.1,863.9 1164.4,858.4 1176.8,846.0 1189.2,837.8 1200.1,837.8 1212.5,842.5 1224.9,838.6 1237.2,841.9 1249.6,843.8 1262.0,843.8 1274.3,848.8 1286.7,858.4 1299.1,866.6 1310.1,872.1 1316.9,873.5 1320.0,873.7 1333.3,869.8 1345.5,867.5 1357.5,862.7 1369.7,862.4 1381.9,864.7 1393.8,869.8 1406.5,876.0 1418.5,881.7 1430.7,879.4 1442.6,876.0 1454.8,863.2 1467.0,851.9 1479.2,846.2 1491.4,837.7 1504.4,850.5 1515.8,867.5 1528.0,874.6 1539.9,880.3 1552.1,889.3 1564.0,877.4 1576.2,867.5 1589.6,875.4 1600.9,876.6 1613.1,877.4 1625.1,880.3 1637.3,891.6 1649.2,887.4 1661.4,890.2 1673.3,891.6 1686.1,891.6 1698.3,886.5 1710.2,887.9 1722.4,887.9 1734.3,889.6 1745.1,894.4" fill="none" stroke="#0078d7" stroke-width="1.0" stroke-linejoin="round"/>
<polygon points="238.09,693.28 435.77,597.12 855.95,392.95 1177.18,236.64 1412.15,122.88 1473.93,92.83 1471.13,87.08 1409.43,117.31 1175.21,232.59 854.38,389.71 434.94,595.41 237.51,692.12" fill="#ff00ff"/>
<polygon points="1479.00,86.80 1473.11,95.24 1468.72,86.25" fill="#ff00ff"/>
<polygon points="176.50,20.83 234.79,685.30 239.47,684.88 177.10,20.77" fill="#3a55d2"/>
<polygon points="237.80,692.50 232.28,683.66 241.64,682.81" fill="#3a55d2"/>
<polygon points="238.86,692.69 358.22,410.07 353.88,408.27 237.94,692.31" fill="#3a55d2"/>
<polygon points="358.90,402.30 359.67,412.69 350.99,409.09" fill="#3a55d2"/>
<polygon points="359.03,400.17 427.15,592.71 431.56,591.10 359.97,399.83" fill="#3a55d2"/>
<polygon points="431.90,598.90 424.30,591.77 433.14,588.55" fill="#3a55d2"/>
<polygon points="432.92,599.17 575.83,381.82 571.88,379.27 432.08,598.63" fill="#3a55d2"/>
<polygon points="577.90,374.30 576.79,384.66 568.90,379.55" fill="#3a55d2"/>
<polygon points="578.09,372.28 644.74,472.11 648.61,469.44 578.91,371.72" fill="#3a55d2"/>
<polygon points="650.90,476.90 641.75,471.92 649.49,466.58" fill="#3a55d2"/>
<polygon points="651.95,477.11 746.90,277.04 742.64,275.06 651.05,476.69" fill="#3a55d2"/>
<polygon points="747.90,269.30 748.25,279.71 739.72,275.76" fill="#3a55d2"/>
<polygon points="748.06,267.23 828.35,423.42 832.51,421.22 748.94,266.77" fill="#3a55d2"/>
<polygon points="833.90,428.90 825.40,422.87 833.72,418.48" fill="#3a55d2"/>
<polygon points="834.88,429.23 963.85,281.48 960.28,278.42 834.12,428.57" fill="#3a55d2"/>
<polygon points="966.90,274.30 964.42,284.42 957.28,278.31" fill="#3a55d2"/>
<polygon points="967.03,272.16 1023.24,440.14 1027.69,438.60 967.97,271.84" fill="#3a55d2"/>
<polygon points="1027.90,446.40 1020.42,439.15 1029.30,436.07" fill="#3a55d2"/>
<polygon points="1028.83,446.78 1340.80,180.24 1337.73,176.68 1028.17,446.02" fill="#3a55d2"/>
<polygon points="1344.90,173.60 1340.93,183.23 1334.79,176.11" fill="#3a55d2"/>
<polygon points="1345.05,171.52 1400.48,287.09 1404.69,284.99 1345.95,171.08" fill="#3a55d2"/>
<polygon points="1405.90,292.70 1397.55,286.47 1405.97,282.28" fill="#3a55d2"/>
<polygon points="1406.97,292.87 1478.85,93.90 1474.42,92.34 1406.03,292.53" fill="#3a55d2"/>
<polygon points="1479.10,86.10 1480.45,96.43 1471.58,93.32" fill="#3a55d2"/>
<polygon points="1479.43,83.93 1741.05,629.92 1745.28,627.88 1479.97,83.67" fill="#3a55d2"/>
<polygon points="1746.40,635.60 1738.12,629.27 1746.58,625.18" fill="#3a55d2"/>
<text x="2" y="13" class="hd">999999 上证指数(周线.前复权)</text>
<text x="168.8" y="12.5" class="hd" style="font-size:10px">▽</text>
<text x="183" y="16" class="ser">0</text>
<text x="191" y="30" class="hd">3684.57</text>
<path d="M177.5 24 L177.5 20.5 L179.5 20.5 M177.5 21 C181 21 182 25 185 25 C186.5 25 187 24 188 23.5" fill="none" stroke="#2a2a2a" stroke-width="1"/>
<text x="251" y="701" class="hd">2638.30</text>
<path d="M237.5 695.5 L249 695.5 M241.5 692 L237.5 695.5 L241.5 699" fill="none" stroke="#2a2a2a" stroke-width="1"/>
<text x="233.3" y="715" class="ser">1</text>
<text x="1475" y="81" class="ser">10</text>
<text x="1742" y="654" class="ser">11</text>
<text x="1836" y="80" text-anchor="end" class="ax">3600</text>
<text x="1836" y="145" text-anchor="end" class="ax">3500</text>
<text x="1836" y="209" text-anchor="end" class="ax">3400</text>
<text x="1836" y="274" text-anchor="end" class="ax">3300</text>
<text x="1836" y="337" text-anchor="end" class="ax">3200</text>
<text x="1836" y="403" text-anchor="end" class="ax">3100</text>
<text x="1836" y="466" text-anchor="end" class="ax">3000</text>
<text x="1836" y="532" text-anchor="end" class="ax">2900</text>
<text x="1836" y="595" text-anchor="end" class="ax">2800</text>
<text x="1836" y="749" text-anchor="end" class="ax">20000</text>
<text x="1836" y="777" text-anchor="end" class="ax">17500</text>
<text x="1836" y="803" text-anchor="end" class="ax">15000</text>
<text x="1836" y="831" text-anchor="end" class="ax">12500</text>
<text x="1836" y="856" text-anchor="end" class="ax">10000</text>
<text x="1836" y="884" text-anchor="end" class="ax">7500</text>
<text x="1836" y="909" text-anchor="end" class="ax">5000</text>
<text x="1.6" y="732.5" class="hd" style="font-size:10px">▽</text>
<text x="12.6" y="733" class="hd" textLength="202.6">VOL-TDX(5,10) VVOL: 402795488.00</text>
<text x="226" y="733" fill="#0078d7" textLength="248.4">VOLUME: 402795488.00 MA5: 579380288.00</text>
<text x="480" y="733" fill="#800080">MA10: 600606144.00</text>
<path d="M1766.5 4.5 L1771.5 9.5 L1766.5 14.5 L1761.5 9.5 Z" fill="none" stroke="#b0b0b0" stroke-width="1"/>
<path d="M1778.5 6.5 h7 v7 h-7 Z M1780.5 6.5 v-2 h7 v7 h-2" fill="none" stroke="#b0b0b0" stroke-width="1" shape-rendering="crispEdges"/>
<rect x="1737" y="25" width="2" height="2" fill="#ff00ff"/><rect x="1749" y="25" width="2" height="2" fill="#ff00ff"/>
<path d="M1792 946.5 H1828.5 V960" fill="none" stroke="#b8b8b8" shape-rendering="crispEdges"/>
<text x="1793" y="958" class="ax">X10万</text>
<text x="1803" y="973.5" fill="#222">周线</text>
<g shape-rendering="crispEdges">
<rect x="5" y="962" width="1" height="2" fill="#cfcfcf"/>
<rect x="17" y="962" width="1" height="2" fill="#cfcfcf"/>
<rect x="29" y="962" width="1" height="2" fill="#cfcfcf"/>
<rect x="42" y="962" width="1" height="2" fill="#cfcfcf"/>
<rect x="54" y="962" width="1" height="2" fill="#cfcfcf"/>
<rect x="66" y="962" width="1" height="2" fill="#cfcfcf"/>
<rect x="78" y="962" width="1" height="2" fill="#cfcfcf"/>
<rect x="90" y="962" width="1" height="2" fill="#cfcfcf"/>
<rect x="102" y="962" width="1" height="2" fill="#cfcfcf"/>
<rect x="115" y="962" width="1" height="2" fill="#cfcfcf"/>
<rect x="127" y="962" width="1" height="2" fill="#cfcfcf"/>
<rect x="139" y="962" width="1" height="2" fill="#cfcfcf"/>
<rect x="151" y="962" width="1" height="2" fill="#cfcfcf"/>
<rect x="163" y="962" width="1" height="2" fill="#cfcfcf"/>
<rect x="175" y="962" width="1" height="2" fill="#cfcfcf"/>
<rect x="188" y="962" width="1" height="2" fill="#cfcfcf"/>
<rect x="200" y="962" width="1" height="2" fill="#cfcfcf"/>
<rect x="212" y="962" width="1" height="2" fill="#cfcfcf"/>
<rect x="224" y="962" width="1" height="2" fill="#cfcfcf"/>
<rect x="236" y="962" width="1" height="2" fill="#cfcfcf"/>
<rect x="248" y="962" width="1" height="2" fill="#cfcfcf"/>
<rect x="261" y="962" width="1" height="2" fill="#cfcfcf"/>
<rect x="273" y="962" width="1" height="2" fill="#cfcfcf"/>
<rect x="285" y="962" width="1" height="2" fill="#cfcfcf"/>
<rect x="297" y="962" width="1" height="2" fill="#cfcfcf"/>
<rect x="309" y="962" width="1" height="2" fill="#cfcfcf"/>
<rect x="321" y="962" width="1" height="2" fill="#cfcfcf"/>
<rect x="334" y="962" width="1" height="2" fill="#cfcfcf"/>
<rect x="346" y="962" width="1" height="2" fill="#cfcfcf"/>
<rect x="358" y="962" width="1" height="2" fill="#cfcfcf"/>
<rect x="370" y="962" width="1" height="2" fill="#cfcfcf"/>
<rect x="382" y="962" width="1" height="2" fill="#cfcfcf"/>
<rect x="395" y="962" width="1" height="2" fill="#cfcfcf"/>
<rect x="407" y="962" width="1" height="2" fill="#cfcfcf"/>
<rect x="419" y="962" width="1" height="2" fill="#cfcfcf"/>
<rect x="431" y="962" width="1" height="2" fill="#cfcfcf"/>
<rect x="443" y="962" width="1" height="2" fill="#cfcfcf"/>
<rect x="455" y="962" width="1" height="2" fill="#cfcfcf"/>
<rect x="468" y="962" width="1" height="2" fill="#cfcfcf"/>
<rect x="480" y="962" width="1" height="2" fill="#cfcfcf"/>
<rect x="492" y="962" width="1" height="2" fill="#cfcfcf"/>
<rect x="504" y="962" width="1" height="2" fill="#cfcfcf"/>
<rect x="516" y="962" width="1" height="2" fill="#cfcfcf"/>
<rect x="528" y="962" width="1" height="2" fill="#cfcfcf"/>
<rect x="541" y="962" width="1" height="2" fill="#cfcfcf"/>
<rect x="553" y="962" width="1" height="2" fill="#cfcfcf"/>
<rect x="565" y="962" width="1" height="2" fill="#cfcfcf"/>
<rect x="577" y="962" width="1" height="2" fill="#cfcfcf"/>
<rect x="589" y="962" width="1" height="2" fill="#cfcfcf"/>
<rect x="601" y="962" width="1" height="2" fill="#cfcfcf"/>
<rect x="614" y="962" width="1" height="2" fill="#cfcfcf"/>
<rect x="626" y="962" width="1" height="2" fill="#cfcfcf"/>
<rect x="638" y="962" width="1" height="2" fill="#cfcfcf"/>
<rect x="650" y="962" width="1" height="2" fill="#cfcfcf"/>
<rect x="662" y="962" width="1" height="2" fill="#cfcfcf"/>
<rect x="674" y="962" width="1" height="2" fill="#cfcfcf"/>
<rect x="687" y="962" width="1" height="2" fill="#cfcfcf"/>
<rect x="699" y="962" width="1" height="2" fill="#cfcfcf"/>
<rect x="711" y="962" width="1" height="2" fill="#cfcfcf"/>
<rect x="723" y="962" width="1" height="2" fill="#cfcfcf"/>
<rect x="735" y="962" width="1" height="2" fill="#cfcfcf"/>
<rect x="747" y="962" width="1" height="2" fill="#cfcfcf"/>
<rect x="760" y="962" width="1" height="2" fill="#cfcfcf"/>
<rect x="772" y="962" width="1" height="2" fill="#cfcfcf"/>
<rect x="784" y="962" width="1" height="2" fill="#cfcfcf"/>
<rect x="796" y="962" width="1" height="2" fill="#cfcfcf"/>
<rect x="808" y="962" width="1" height="2" fill="#cfcfcf"/>
<rect x="820" y="962" width="1" height="2" fill="#cfcfcf"/>
<rect x="833" y="962" width="1" height="2" fill="#cfcfcf"/>
<rect x="845" y="962" width="1" height="2" fill="#cfcfcf"/>
<rect x="857" y="962" width="1" height="2" fill="#cfcfcf"/>
<rect x="869" y="962" width="1" height="2" fill="#cfcfcf"/>
<rect x="881" y="962" width="1" height="2" fill="#cfcfcf"/>
<rect x="893" y="962" width="1" height="2" fill="#cfcfcf"/>
<rect x="906" y="962" width="1" height="2" fill="#cfcfcf"/>
<rect x="918" y="962" width="1" height="2" fill="#cfcfcf"/>
<rect x="930" y="962" width="1" height="2" fill="#cfcfcf"/>
<rect x="942" y="962" width="1" height="2" fill="#cfcfcf"/>
<rect x="954" y="962" width="1" height="2" fill="#cfcfcf"/>
<rect x="966" y="962" width="1" height="2" fill="#cfcfcf"/>
<rect x="979" y="962" width="1" height="2" fill="#cfcfcf"/>
<rect x="991" y="962" width="1" height="2" fill="#cfcfcf"/>
<rect x="1003" y="962" width="1" height="2" fill="#cfcfcf"/>
<rect x="1015" y="962" width="1" height="2" fill="#cfcfcf"/>
<rect x="1027" y="962" width="1" height="2" fill="#cfcfcf"/>
<rect x="1040" y="962" width="1" height="2" fill="#cfcfcf"/>
<rect x="1052" y="962" width="1" height="2" fill="#cfcfcf"/>
<rect x="1064" y="962" width="1" height="2" fill="#cfcfcf"/>
<rect x="1076" y="962" width="1" height="2" fill="#cfcfcf"/>
<rect x="1088" y="962" width="1" height="2" fill="#cfcfcf"/>
<rect x="1100" y="962" width="1" height="2" fill="#cfcfcf"/>
<rect x="1113" y="962" width="1" height="2" fill="#cfcfcf"/>
<rect x="1125" y="962" width="1" height="2" fill="#cfcfcf"/>
<rect x="1137" y="962" width="1" height="2" fill="#cfcfcf"/>
<rect x="1149" y="962" width="1" height="2" fill="#cfcfcf"/>
<rect x="1161" y="962" width="1" height="2" fill="#cfcfcf"/>
<rect x="1173" y="962" width="1" height="2" fill="#cfcfcf"/>
<rect x="1186" y="962" width="1" height="2" fill="#cfcfcf"/>
<rect x="1198" y="962" width="1" height="2" fill="#cfcfcf"/>
<rect x="1210" y="962" width="1" height="2" fill="#cfcfcf"/>
<rect x="1222" y="962" width="1" height="2" fill="#cfcfcf"/>
<rect x="1234" y="962" width="1" height="2" fill="#cfcfcf"/>
<rect x="1246" y="962" width="1" height="2" fill="#cfcfcf"/>
<rect x="1259" y="962" width="1" height="2" fill="#cfcfcf"/>
<rect x="1271" y="962" width="1" height="2" fill="#cfcfcf"/>
<rect x="1283" y="962" width="1" height="2" fill="#cfcfcf"/>
<rect x="1295" y="962" width="1" height="2" fill="#cfcfcf"/>
<rect x="1307" y="962" width="1" height="2" fill="#cfcfcf"/>
<rect x="1319" y="962" width="1" height="2" fill="#cfcfcf"/>
<rect x="1332" y="962" width="1" height="2" fill="#cfcfcf"/>
<rect x="1344" y="962" width="1" height="2" fill="#cfcfcf"/>
<rect x="1356" y="962" width="1" height="2" fill="#cfcfcf"/>
<rect x="1368" y="962" width="1" height="2" fill="#cfcfcf"/>
<rect x="1380" y="962" width="1" height="2" fill="#cfcfcf"/>
<rect x="1392" y="962" width="1" height="2" fill="#cfcfcf"/>
<rect x="1405" y="962" width="1" height="2" fill="#cfcfcf"/>
<rect x="1417" y="962" width="1" height="2" fill="#cfcfcf"/>
<rect x="1429" y="962" width="1" height="2" fill="#cfcfcf"/>
<rect x="1441" y="962" width="1" height="2" fill="#cfcfcf"/>
<rect x="1453" y="962" width="1" height="2" fill="#cfcfcf"/>
<rect x="1465" y="962" width="1" height="2" fill="#cfcfcf"/>
<rect x="1478" y="962" width="1" height="2" fill="#cfcfcf"/>
<rect x="1490" y="962" width="1" height="2" fill="#cfcfcf"/>
<rect x="1502" y="962" width="1" height="2" fill="#cfcfcf"/>
<rect x="1514" y="962" width="1" height="2" fill="#cfcfcf"/>
<rect x="1526" y="962" width="1" height="2" fill="#cfcfcf"/>
<rect x="1538" y="962" width="1" height="2" fill="#cfcfcf"/>
<rect x="1551" y="962" width="1" height="2" fill="#cfcfcf"/>
<rect x="1563" y="962" width="1" height="2" fill="#cfcfcf"/>
<rect x="1575" y="962" width="1" height="2" fill="#cfcfcf"/>
<rect x="1587" y="962" width="1" height="2" fill="#cfcfcf"/>
<rect x="1599" y="962" width="1" height="2" fill="#cfcfcf"/>
<rect x="1612" y="962" width="1" height="2" fill="#cfcfcf"/>
<rect x="1624" y="962" width="1" height="2" fill="#cfcfcf"/>
<rect x="1636" y="962" width="1" height="2" fill="#cfcfcf"/>
<rect x="1648" y="962" width="1" height="2" fill="#cfcfcf"/>
<rect x="1660" y="962" width="1" height="2" fill="#cfcfcf"/>
<rect x="1672" y="962" width="1" height="2" fill="#cfcfcf"/>
<rect x="1685" y="962" width="1" height="2" fill="#cfcfcf"/>
<rect x="1697" y="962" width="1" height="2" fill="#cfcfcf"/>
<rect x="1709" y="962" width="1" height="2" fill="#cfcfcf"/>
<rect x="1721" y="962" width="1" height="2" fill="#cfcfcf"/>
<rect x="1733" y="962" width="1" height="2" fill="#cfcfcf"/>
<rect x="1745" y="962" width="1" height="2" fill="#cfcfcf"/>
<rect x="42" y="962" width="1" height="15" fill="#b8b8b8"/>
<rect x="90" y="962" width="1" height="15" fill="#b8b8b8"/>
<rect x="139" y="962" width="1" height="15" fill="#b8b8b8"/>
<rect x="200" y="962" width="1" height="15" fill="#b8b8b8"/>
<rect x="248" y="962" width="1" height="15" fill="#b8b8b8"/>
<rect x="285" y="962" width="1" height="15" fill="#b8b8b8"/>
<rect x="334" y="962" width="1" height="15" fill="#b8b8b8"/>
<rect x="395" y="962" width="1" height="15" fill="#b8b8b8"/>
<rect x="442" y="962" width="1" height="15" fill="#b8b8b8"/>
<rect x="492" y="962" width="1" height="15" fill="#b8b8b8"/>
<rect x="553" y="962" width="1" height="15" fill="#b8b8b8"/>
<rect x="601" y="962" width="1" height="15" fill="#b8b8b8"/>
<rect x="662" y="962" width="1" height="15" fill="#b8b8b8"/>
<rect x="699" y="962" width="1" height="15" fill="#b8b8b8"/>
<rect x="747" y="962" width="1" height="15" fill="#b8b8b8"/>
<rect x="808" y="962" width="1" height="15" fill="#b8b8b8"/>
<rect x="856" y="962" width="1" height="15" fill="#b8b8b8"/>
<rect x="906" y="962" width="1" height="15" fill="#b8b8b8"/>
<rect x="966" y="962" width="1" height="15" fill="#b8b8b8"/>
<rect x="1015" y="962" width="1" height="15" fill="#b8b8b8"/>
<rect x="1064" y="962" width="1" height="15" fill="#b8b8b8"/>
<rect x="1125" y="962" width="1" height="15" fill="#b8b8b8"/>
<rect x="1173" y="962" width="1" height="15" fill="#b8b8b8"/>
<rect x="1222" y="962" width="1" height="15" fill="#b8b8b8"/>
<rect x="1283" y="962" width="1" height="15" fill="#b8b8b8"/>
<rect x="1319" y="962" width="1" height="15" fill="#b8b8b8"/>
<rect x="1368" y="962" width="1" height="15" fill="#b8b8b8"/>
<rect x="1429" y="962" width="1" height="15" fill="#b8b8b8"/>
<rect x="1478" y="962" width="1" height="15" fill="#b8b8b8"/>
<rect x="1526" y="962" width="1" height="15" fill="#b8b8b8"/>
<rect x="1587" y="962" width="1" height="15" fill="#b8b8b8"/>
<rect x="1636" y="962" width="1" height="15" fill="#b8b8b8"/>
<rect x="1685" y="962" width="1" height="15" fill="#b8b8b8"/>
<rect x="31" y="977" width="1" height="2" fill="#b8b8b8"/>
<rect x="61" y="977" width="1" height="2" fill="#b8b8b8"/>
<rect x="92" y="977" width="1" height="2" fill="#b8b8b8"/>
<rect x="137" y="977" width="1" height="2" fill="#b8b8b8"/>
<rect x="181" y="977" width="1" height="2" fill="#b8b8b8"/>
<rect x="247" y="977" width="1" height="2" fill="#b8b8b8"/>
</g>
<text x="6" y="974" class="ax" textLength="36.5" lengthAdjust="spacingAndGlyphs">2015年</text>
<text x="43.5" y="974" class="ax">10</text>
<text x="92" y="974" class="ax">11</text>
<text x="141" y="974" class="ax">12</text>
<text x="202" y="974" class="ax">1</text>
<text x="250" y="974" class="ax">2</text>
<text x="287" y="974" class="ax">3</text>
<text x="336" y="974" class="ax">4</text>
<text x="397" y="974" class="ax">5</text>
<text x="444" y="974" class="ax">6</text>
<text x="494" y="974" class="ax">7</text>
<text x="555" y="974" class="ax">8</text>
<text x="603" y="974" class="ax">9</text>
<text x="664" y="974" class="ax">10</text>
<text x="701" y="974" class="ax">11</text>
<text x="749" y="974" class="ax">12</text>
<text x="810" y="974" class="ax">1</text>
<text x="858" y="974" class="ax">2</text>
<text x="908" y="974" class="ax">3</text>
<text x="968" y="974" class="ax">4</text>
<text x="1017" y="974" class="ax">5</text>
<text x="1066" y="974" class="ax">6</text>
<text x="1127" y="974" class="ax">7</text>
<text x="1175" y="974" class="ax">8</text>
<text x="1224" y="974" class="ax">9</text>
<text x="1285" y="974" class="ax">10</text>
<text x="1321" y="974" class="ax">11</text>
<text x="1370" y="974" class="ax">12</text>
<text x="1431" y="974" class="ax">1</text>
<text x="1480" y="974" class="ax">2</text>
<text x="1528" y="974" class="ax">3</text>
<text x="1589" y="974" class="ax">4</text>
<text x="1638" y="974" class="ax">5</text>
<text x="1687" y="974" class="ax">6</text>
<text x="1746" y="974" class="ax">7</text>
</svg></body></html>
